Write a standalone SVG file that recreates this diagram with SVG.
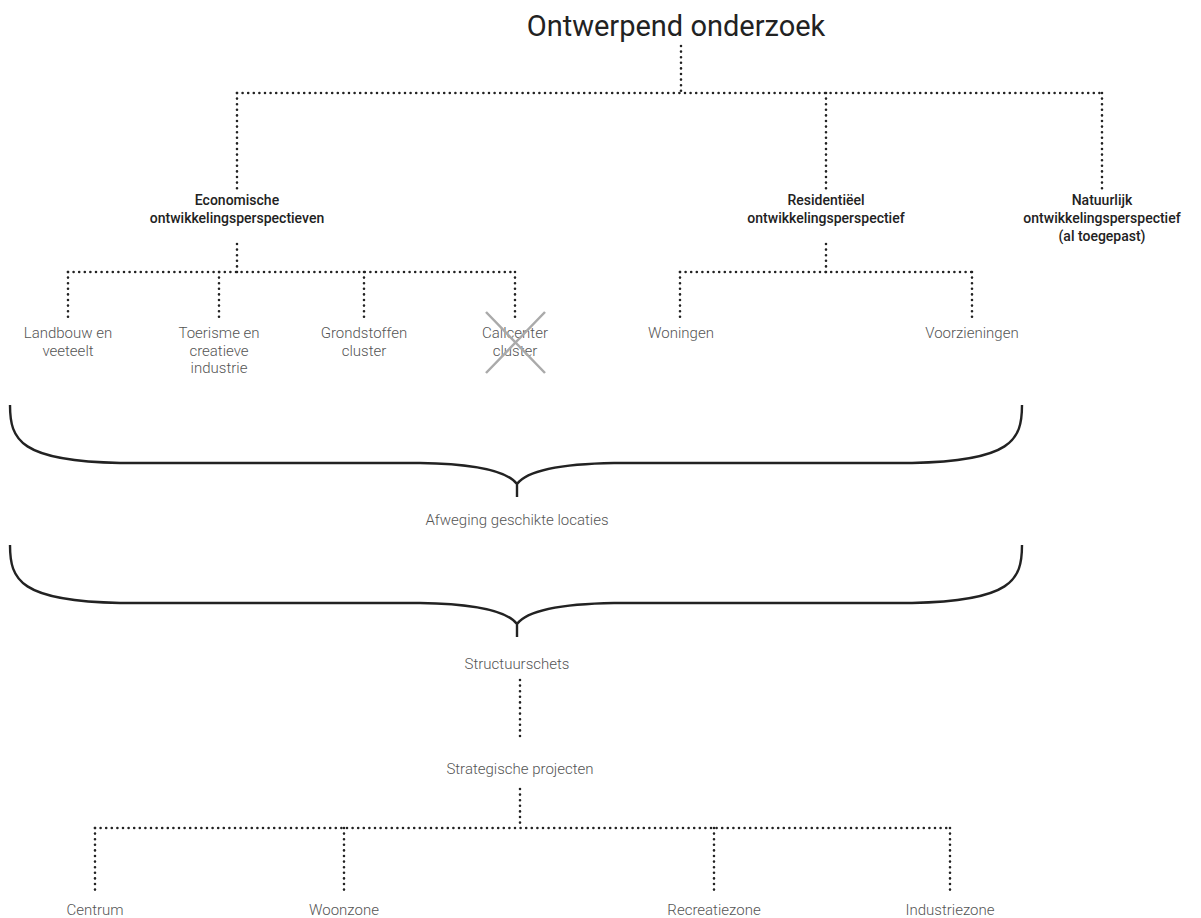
<svg xmlns="http://www.w3.org/2000/svg" width="1201" height="918" viewBox="0 0 1201 918">
  <style>
    .dot { fill: none; stroke: #222; stroke-width: 2.6; stroke-linecap: round; stroke-dasharray: 0 5.6; }
    .brace { fill: none; stroke: #222; stroke-width: 2.4; }
    .title { font-family: Roboto, "Liberation Sans", sans-serif; font-size: 29px; fill: #222; text-anchor: middle; }
    .head { font-family: Roboto, "Liberation Sans", sans-serif; font-size: 14px; font-weight: 500; fill: #222; text-anchor: middle; }
    .lbl { font-family: Roboto, "Liberation Sans", sans-serif; font-size: 15px; font-weight: 300; fill: #555; text-anchor: middle; }
    .cross { stroke: #aaa; stroke-width: 2.5; }
  </style>
  <rect width="1201" height="918" fill="#fff"/>

  <g id="connectors">
    <!-- top level -->
    <path class="dot" d="M681,46 V92"/>
    <path class="dot" d="M237,93 H1102"/>
    <path class="dot" d="M237,93 V190 M826,93 V190 M1102,93 V190"/>
    <!-- economic branch -->
    <path class="dot" d="M237,244 V272"/>
    <path class="dot" d="M68,272 H515"/>
    <path class="dot" d="M68,272 V318 M219,272 V318 M364,272 V318 M515,272 V318"/>
    <!-- residential branch -->
    <path class="dot" d="M826,244 V272"/>
    <path class="dot" d="M680,272 H972"/>
    <path class="dot" d="M680,272 V318 M972,272 V318"/>
    <!-- braces -->
    <path class="brace" d="M10,405 C10,440 20,461 120,463 L420,463 C480,464 508,472 517,484 C526,472 554,464 614,463 L912,463 C1012,461 1022,440 1022,405 M517,484 V497"/>
    <path class="brace" d="M10,545 C10,580 20,601 120,603 L420,603 C480,604 508,612 517,624 C526,612 554,604 614,603 L912,603 C1012,601 1022,580 1022,545 M517,624 V637"/>
    <!-- lower part -->
    <path class="dot" d="M520,680 V738"/>
    <path class="dot" d="M520,789 V826"/>
    <path class="dot" d="M95,828 H950"/>
    <path class="dot" d="M95,828 V895 M344,828 V895 M714,828 V895 M950,828 V895"/>
  </g>

  <g id="title"><text class="title" x="676" y="36">Ontwerpend onderzoek</text></g>

  <g id="economisch"><text class="head" x="237" y="205">Economische<tspan x="237" dy="18">ontwikkelingsperspectieven</tspan></text></g>
  <g id="residentieel"><text class="head" x="826" y="205">Residentiëel<tspan x="826" dy="18">ontwikkelingsperspectief</tspan></text></g>
  <g id="natuurlijk"><text class="head" x="1102" y="205">Natuurlijk<tspan x="1102" dy="18">ontwikkelingsperspectief</tspan><tspan x="1102" dy="18">(al toegepast)</tspan></text></g>

  <g id="landbouw"><text class="lbl" x="68" y="338">Landbouw en<tspan x="68" dy="17.5">veeteelt</tspan></text></g>
  <g id="toerisme"><text class="lbl" x="219" y="338">Toerisme en<tspan x="219" dy="17.5">creatieve</tspan><tspan x="219" dy="17.5">industrie</tspan></text></g>
  <g id="grondstoffen"><text class="lbl" x="364" y="338">Grondstoffen<tspan x="364" dy="17.5">cluster</tspan></text></g>
  <g id="callcenter">
    <text class="lbl" x="515" y="338">Callcenter<tspan x="515" dy="17.5">cluster</tspan></text>
    <path class="cross" d="M486,312 L545,373 M545,312 L486,373"/>
  </g>
  <g id="woningen"><text class="lbl" x="681" y="338">Woningen</text></g>
  <g id="voorzieningen"><text class="lbl" x="972" y="338">Voorzieningen</text></g>

  <g id="afweging"><text class="lbl" x="517" y="525">Afweging geschikte locaties</text></g>
  <g id="structuurschets"><text class="lbl" x="517" y="669">Structuurschets</text></g>
  <g id="strategisch"><text class="lbl" x="520" y="774">Strategische projecten</text></g>

  <g id="centrum"><text class="lbl" x="95" y="915">Centrum</text></g>
  <g id="woonzone"><text class="lbl" x="344" y="915">Woonzone</text></g>
  <g id="recreatiezone"><text class="lbl" x="714" y="915">Recreatiezone</text></g>
  <g id="industriezone"><text class="lbl" x="950" y="915">Industriezone</text></g>
</svg>
